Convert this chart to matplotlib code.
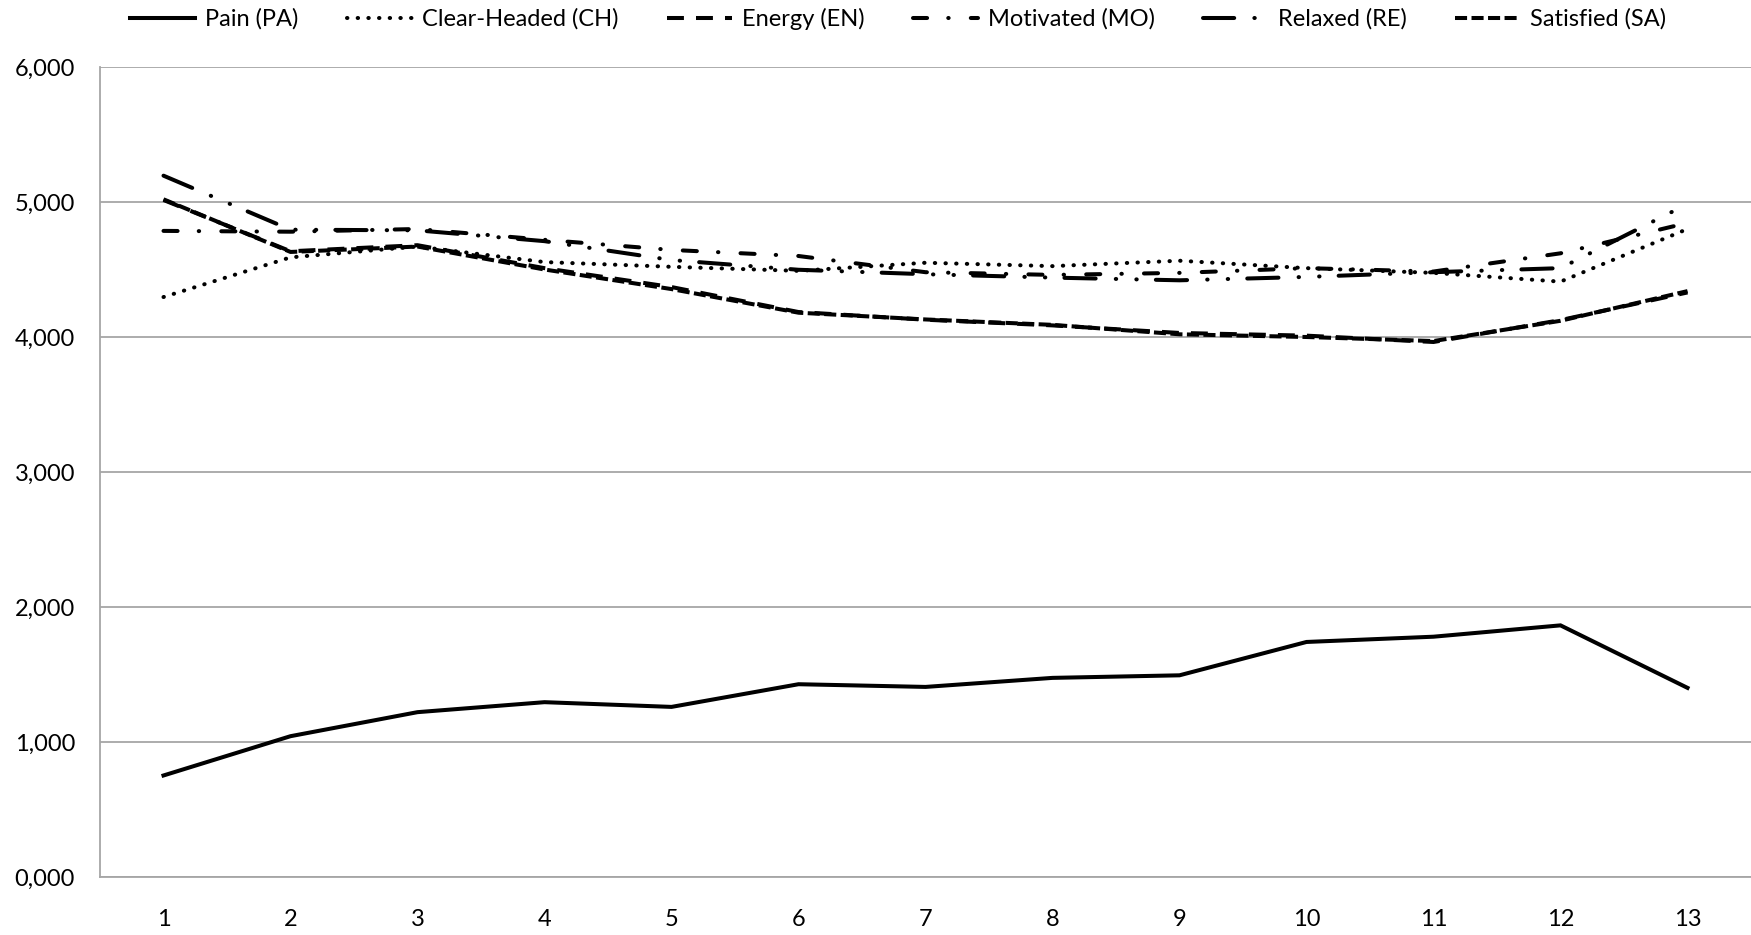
import matplotlib
matplotlib.use("Agg")
import matplotlib.pyplot as plt
from matplotlib.ticker import FuncFormatter

# Measurement sessions 1..13, mean ratings per scale
sessions = list(range(1, 14))
pain = [0.752, 1.043, 1.221, 1.295, 1.260, 1.428, 1.408, 1.475, 1.494, 1.741, 1.780, 1.864, 1.401]
clear_headed = [4.296, 4.590, 4.670, 4.555, 4.520, 4.490, 4.550, 4.525, 4.565, 4.510, 4.475, 4.410, 4.800]
energy = [5.015, 4.635, 4.680, 4.510, 4.370, 4.185, 4.128, 4.086, 4.030, 4.010, 3.963, 4.125, 4.330]
motivated = [4.786, 4.780, 4.800, 4.720, 4.645, 4.600, 4.480, 4.460, 4.475, 4.510, 4.485, 4.620, 4.845]
relaxed = [5.195, 4.795, 4.790, 4.710, 4.570, 4.498, 4.465, 4.440, 4.420, 4.445, 4.480, 4.510, 4.985]
satisfied = [5.020, 4.630, 4.670, 4.500, 4.355, 4.180, 4.130, 4.090, 4.020, 4.000, 3.970, 4.120, 4.340]

labels = ["Pain (PA)", "Clear-Headed (CH)", "Energy (EN)",
          "Motivated (MO)", "Relaxed (RE)", "Satisfied (SA)"]
y_ticks = [0, 1, 2, 3, 4, 5, 6]

plt.rcParams["font.family"] = ["Lato", "DejaVu Sans"]

fig = plt.figure(figsize=(17.51, 9.35), dpi=100)
ax = fig.add_axes([100 / 1751, 1 - 877 / 935, 1651 / 1751, (877 - 67) / 935])

lw = 2.9
styles = [
    dict(linestyle="-", solid_joinstyle="miter"),
    dict(linestyle=(0, (0.1, 2.55)), dash_capstyle="round"),
    dict(linestyle=(0, (4.2, 3.0)), dash_capstyle="butt"),
    dict(linestyle=(0, (3.5, 5.25, 0.1, 5.5)), dash_capstyle="round"),
    dict(linestyle=(0, (7.75, 5.0, 0.1, 5.0, 0.1, 4.75)), dash_capstyle="round"),
    dict(linestyle=(0, (3.0, 1.1)), dash_capstyle="butt"),
]
series = [pain, clear_headed, energy, motivated, relaxed, satisfied]

for vals, lab, st in zip(series, labels, styles):
    ax.plot(sessions, vals, color="black", linewidth=lw, label=lab, **st)

ax.set_xlim(0.5, 13.5)
ax.set_ylim(0, 6)
ax.set_xticks(sessions)
ax.set_yticks(y_ticks)
ax.yaxis.set_major_formatter(FuncFormatter(lambda v, p: f"{v:.3f}".replace(".", ",")))

ax.grid(axis="y", color="#a6a6a6", linewidth=1.3)
ax.set_axisbelow(True)
for side in ("top", "right"):
    ax.spines[side].set_visible(False)
for side in ("left", "bottom"):
    ax.spines[side].set_color("#a6a6a6")
    ax.spines[side].set_linewidth(1.3)

ax.tick_params(axis="both", length=0, labelsize=17, colors="black")
ax.tick_params(axis="x", pad=23)
ax.tick_params(axis="y", pad=18)

fig.legend(loc="center", bbox_to_anchor=(0.513, 1 - 19 / 935), ncol=6,
           frameon=False, fontsize=17, handlelength=2.75, handletextpad=0.42,
           columnspacing=2.05, borderpad=0)

fig.savefig("out.png", dpi=100, facecolor="white")
